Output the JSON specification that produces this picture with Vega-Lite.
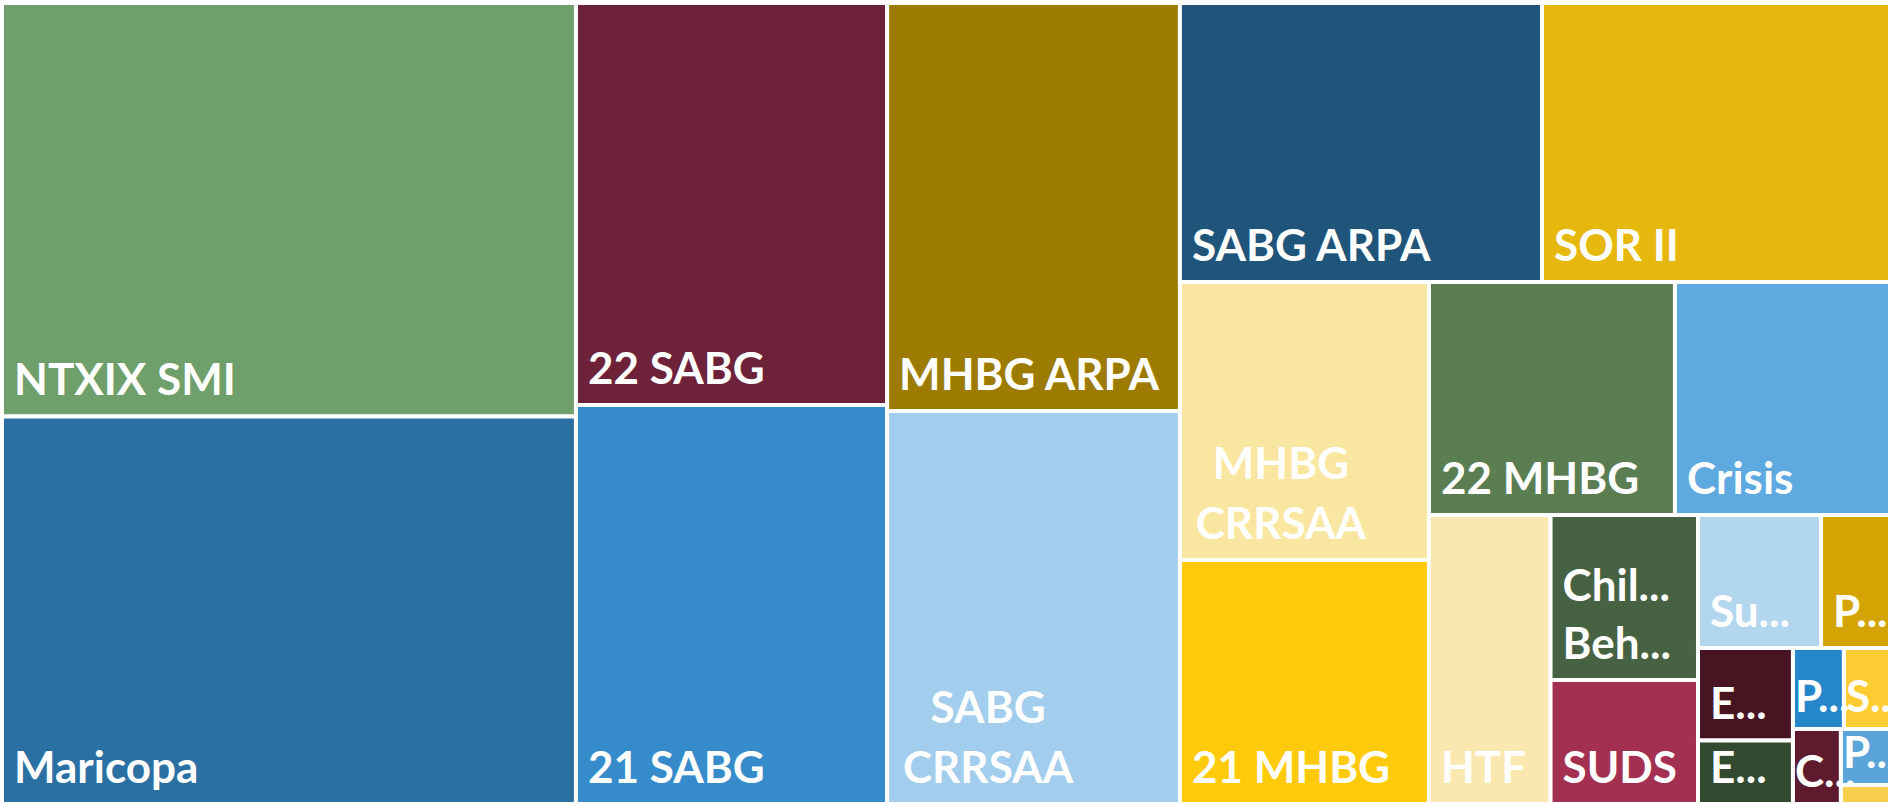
{
  "$schema": "https://vega.github.io/schema/vega-lite/v6.json",
  "width": 1888,
  "height": 801,
  "autosize": {"type": "none"},
  "padding": {"left": 2, "top": 3, "right": 1, "bottom": 0},
  "background": "white",
  "config": {"view": {"stroke": null}, "text": {"font": "Lato"}},
  "data": {
    "values": [
      {"key": "NTXIX SMI", "label": "NTXIX SMI", "x0": 0, "x1": 30.40, "y0": 0, "y1": 51.62},
      {"key": "Maricopa", "label": "Maricopa", "x0": 0, "x1": 30.40, "y0": 51.62, "y1": 100},
      {"key": "22 SABG", "label": "22 SABG", "x0": 30.40, "x1": 46.88, "y0": 0, "y1": 50.19},
      {"key": "21 SABG", "label": "21 SABG", "x0": 30.40, "x1": 46.88, "y0": 50.19, "y1": 100},
      {"key": "MHBG ARPA", "label": "MHBG ARPA", "x0": 46.88, "x1": 62.39, "y0": 0, "y1": 50.94},
      {"key": "SABG CRRSAA", "label": ["SABG", "CRRSAA"], "x0": 46.88, "x1": 62.39, "y0": 50.94, "y1": 100},
      {"key": "SABG ARPA", "label": "SABG ARPA", "x0": 62.39, "x1": 81.57, "y0": 0, "y1": 34.83},
      {"key": "SOR II", "label": "SOR II", "x0": 81.57, "x1": 100, "y0": 0, "y1": 34.83},
      {"key": "MHBG CRRSAA", "label": ["MHBG", "CRRSAA"], "x0": 62.39, "x1": 75.58, "y0": 34.83, "y1": 69.54},
      {"key": "21 MHBG", "label": "21 MHBG", "x0": 62.39, "x1": 75.58, "y0": 69.54, "y1": 100},
      {"key": "22 MHBG", "label": "22 MHBG", "x0": 75.58, "x1": 88.61, "y0": 34.83, "y1": 63.92},
      {"key": "Crisis", "label": "Crisis", "x0": 88.61, "x1": 100, "y0": 34.83, "y1": 63.92},
      {"key": "HTF", "label": "HTF", "x0": 75.58, "x1": 82.02, "y0": 63.92, "y1": 100},
      {"key": "Chil Beh", "label": ["Chil...", "Beh..."], "x0": 82.02, "x1": 89.83, "y0": 63.92, "y1": 84.52},
      {"key": "SUDS", "label": "SUDS", "x0": 82.02, "x1": 89.83, "y0": 84.52, "y1": 100},
      {"key": "Su", "label": "Su...", "x0": 89.83, "x1": 96.35, "y0": 63.92, "y1": 80.52},
      {"key": "P1", "label": "P...", "x0": 96.35, "x1": 100, "y0": 63.92, "y1": 80.52},
      {"key": "E1", "label": "E...", "x0": 89.83, "x1": 94.86, "y0": 80.52, "y1": 92.07},
      {"key": "E2", "label": "E...", "x0": 89.83, "x1": 94.86, "y0": 92.07, "y1": 100},
      {"key": "P2", "label": "P...", "x0": 94.86, "x1": 97.56, "y0": 80.52, "y1": 90.64},
      {"key": "S", "label": "S...", "x0": 97.56, "x1": 100, "y0": 80.52, "y1": 90.64},
      {"key": "C", "label": "C...", "x0": 94.86, "x1": 97.40, "y0": 90.64, "y1": 100},
      {"key": "P3", "label": "P...", "x0": 97.40, "x1": 100, "y0": 90.64, "y1": 97.63},
      {"key": "Other", "label": "", "x0": 97.40, "x1": 100, "y0": 97.63, "y1": 100}
    ]
  },
  "layer": [
    {
      "mark": {"type": "rect", "stroke": "white", "strokeWidth": 4},
      "encoding": {
        "x": {"field": "x0", "type": "quantitative", "scale": {"domain": [0, 100], "nice": false, "zero": false}, "axis": null},
        "x2": {"field": "x1"},
        "y": {"field": "y0", "type": "quantitative", "scale": {"domain": [0, 100], "reverse": true, "nice": false, "zero": false}, "axis": null},
        "y2": {"field": "y1"},
        "color": {
          "field": "key",
          "type": "nominal",
          "legend": null,
          "scale": {
            "domain": ["NTXIX SMI", "Maricopa", "22 SABG", "21 SABG", "MHBG ARPA", "SABG CRRSAA", "SABG ARPA", "SOR II", "MHBG CRRSAA", "21 MHBG", "22 MHBG", "Crisis", "HTF", "Chil Beh", "SUDS", "Su", "P1", "E1", "E2", "P2", "S", "C", "P3", "Other"],
            "range": ["#6F9F6A", "#2A70A2", "#6E2239", "#368BCB", "#9C7B00", "#A2CDEC", "#20557B", "#E6B80E", "#F9E6A0", "#FFCA0A", "#5A7D52", "#5EA9DF", "#FBE8B0", "#476243", "#A33050", "#B3D6EF", "#D4A404", "#461521", "#324A2F", "#2686CA", "#FDCD33", "#5E1B2D", "#5BA4DA", "#F8CF4D"]
          }
        }
      }
    },
    {
      "transform": [{"filter": {"not": {"field": "key", "oneOf": ["SABG CRRSAA", "MHBG CRRSAA", "Chil Beh", "P2", "S", "C", "P3", "Other"]}}}],
      "mark": {"type": "text", "align": "left", "baseline": "bottom", "dx": 12, "dy": -12, "fontSize": 44, "fontWeight": "bold", "color": "white"},
      "encoding": {
        "x": {"field": "x0", "type": "quantitative", "scale": {"domain": [0, 100], "nice": false, "zero": false}, "axis": null},
        "y": {"field": "y1", "type": "quantitative", "scale": {"domain": [0, 100], "reverse": true, "nice": false, "zero": false}, "axis": null},
        "text": {"field": "label"}
      }
    },
    {
      "transform": [{"filter": {"field": "key", "equal": "Chil Beh"}}],
      "mark": {"type": "text", "align": "left", "baseline": "bottom", "dx": 12, "dy": -70, "fontSize": 44, "fontWeight": "bold", "color": "white", "lineHeight": 58},
      "encoding": {
        "x": {"field": "x0", "type": "quantitative", "scale": {"domain": [0, 100], "nice": false, "zero": false}, "axis": null},
        "y": {"field": "y1", "type": "quantitative", "scale": {"domain": [0, 100], "reverse": true, "nice": false, "zero": false}, "axis": null},
        "text": {"field": "label"}
      }
    },
    {
      "transform": [{"filter": {"field": "key", "oneOf": ["SABG CRRSAA", "MHBG CRRSAA"]}}],
      "mark": {"type": "text", "align": "center", "baseline": "bottom", "dx": 101, "dy": -72, "fontSize": 44, "fontWeight": "bold", "color": "white", "lineHeight": 60},
      "encoding": {
        "x": {"field": "x0", "type": "quantitative", "scale": {"domain": [0, 100], "nice": false, "zero": false}, "axis": null},
        "y": {"field": "y1", "type": "quantitative", "scale": {"domain": [0, 100], "reverse": true, "nice": false, "zero": false}, "axis": null},
        "text": {"field": "label"}
      }
    },
    {
      "transform": [{"filter": {"field": "key", "oneOf": ["P2", "S", "C", "P3"]}}],
      "mark": {"type": "text", "align": "left", "baseline": "bottom", "dx": 2, "dy": -8, "fontSize": 44, "fontWeight": "bold", "color": "white"},
      "encoding": {
        "x": {"field": "x0", "type": "quantitative", "scale": {"domain": [0, 100], "nice": false, "zero": false}, "axis": null},
        "y": {"field": "y1", "type": "quantitative", "scale": {"domain": [0, 100], "reverse": true, "nice": false, "zero": false}, "axis": null},
        "text": {"field": "label"}
      }
    }
  ]
}
